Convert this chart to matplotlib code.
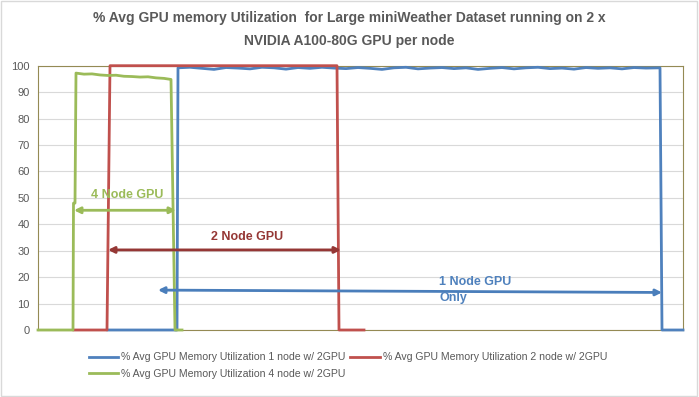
import matplotlib.pyplot as plt

# Eixo de tempo em unidades arbitrárias (amostras), 0..645
x_max = 645

# 1 node w/ 2GPU
t_1node = [70, 139, 140, 152, 164, 176, 188, 200, 212, 224, 236, 248, 260, 272, 284,
           296, 308, 320, 332, 344, 356, 368, 380, 392, 404, 416, 428, 440, 452, 464,
           476, 488, 500, 512, 524, 536, 548, 560, 572, 584, 596, 608, 622, 623, 624, 645]
u_1node = [0, 0, 99.2, 99.4, 99.0, 98.6, 99.3, 99.1, 98.8, 99.4, 99.2, 98.7, 99.3,
           99.0, 99.4, 99.1, 98.9, 99.3, 99.0, 98.6, 99.2, 99.4, 98.8, 99.1, 99.3, 98.9,
           99.2, 98.6, 99.0, 99.3, 98.8, 99.2, 99.4, 98.9, 99.1, 98.7, 99.3, 99.0, 99.2,
           98.8, 99.3, 99.1, 99.2, 50, 0, 0]

# 2 node w/ 2GPU
t_2node = [36, 69, 72, 120, 200, 299, 301, 326]
u_2node = [0, 0, 100, 100, 100, 100, 0, 0]

# 4 node w/ 2GPU
t_4node = [0, 35, 35.5, 37, 38, 46, 54, 62, 70, 78, 86, 94, 102, 110, 118, 126, 133, 137, 144]
u_4node = [0, 0, 48, 48, 97.2, 96.8, 96.9, 96.5, 96.3, 96.4, 96.0, 95.9, 95.7, 95.8, 95.4,
           95.2, 94.8, 0, 0]

labels = ["% Avg GPU Memory Utilization 1 node w/ 2GPU",
          "% Avg GPU Memory Utilization 2 node w/ 2GPU",
          "% Avg GPU Memory Utilization 4 node w/ 2GPU"]
colors = ["#4F81BD", "#C0504D", "#9BBB59"]

# Setas de anotação: (texto, x inicio, y inicio, x fim, y fim, x texto, y texto, cor seta, cor texto)
arrows = [
    ("4 Node GPU", 36, 45.3, 138, 45.3, 89, 51.0, "#9BBB59", "#9BBB59"),
    ("2 Node GPU", 70, 30.3, 303, 30.3, 209, 35.3, "#953735", "#953735"),
    ("1 Node GPU\nOnly", 120, 15.1, 624, 14.2, 401, 15.2, "#4A7EBB", "#4F81BD"),
]

fig = plt.figure(figsize=(6.99, 3.97), dpi=100)
ax = fig.add_axes([38 / 699, 1 - 330 / 397, 645 / 699, (330 - 65.7) / 397])

l1, = ax.plot(t_1node, u_1node, color=colors[0], lw=2, label=labels[0], clip_on=False, zorder=3)
l2, = ax.plot(t_2node, u_2node, color=colors[1], lw=2, label=labels[1], clip_on=False, zorder=3)
l3, = ax.plot(t_4node, u_4node, color=colors[2], lw=2, label=labels[2], clip_on=False, zorder=3)

for txt, x0, y0, x1, y1, xt, yt, c_arrow, c_text in arrows:
    ax.annotate("", xy=(x1, y1), xytext=(x0, y0),
                arrowprops=dict(arrowstyle="<|-|>", color=c_arrow, lw=2.0,
                                mutation_scale=9, shrinkA=0, shrinkB=0), zorder=4)
    if "Only" in txt:
        ax.text(xt, yt, txt, color=c_text, fontsize=9, fontweight="bold",
                ha="left", va="center", linespacing=1.5, family="Liberation Sans", zorder=4)
    else:
        ax.text(xt, yt, txt, color=c_text, fontsize=9, fontweight="bold",
                ha="center", va="center", family="Liberation Sans", zorder=4)

ax.set_xlim(0, x_max)
ax.set_ylim(0, 100)
ax.set_yticks(range(0, 101, 10))
ax.set_xticks([])
ax.tick_params(axis="y", length=0, labelsize=8, labelcolor="#595959", pad=6)
for lab in ax.get_yticklabels():
    lab.set_family("Liberation Sans")
ax.grid(axis="y", color="#D9D9D9", lw=0.8)
ax.set_axisbelow(True)
for s in ax.spines.values():
    s.set_color("#948A54")
    s.set_linewidth(0.8)

fig.text(0.5, 1 - 18 / 397, "% Avg GPU memory Utilization  for Large miniWeather Dataset running on 2 x",
         ha="center", va="center", fontsize=10, fontweight="bold", color="#595959",
         family="Liberation Sans")
fig.text(0.5, 1 - 41 / 397, "NVIDIA A100-80G GPU per node",
         ha="center", va="center", fontsize=10, fontweight="bold", color="#595959",
         family="Liberation Sans")

# legenda em duas colunas: azul/verde na primeira, vermelho na segunda
leg = fig.legend([l1, l3, l2], [labels[0], labels[2], labels[1]], ncol=2,
                 loc="upper left", bbox_to_anchor=(79 / 699, 1 - 343 / 397),
                 frameon=False, handlelength=2.8, handletextpad=0.25,
                 columnspacing=0.5, labelspacing=0.6,
                 prop={"family": "Liberation Sans", "size": 7.6})
for t in leg.get_texts():
    t.set_color("#595959")

# moldura cinza em volta do gráfico
fig.patches.append(plt.Rectangle((0.001, 0.003), 0.996, 0.995, transform=fig.transFigure,
                                 fill=False, edgecolor="#D9D9D9", lw=1))

fig.savefig("out.png", dpi=100)
